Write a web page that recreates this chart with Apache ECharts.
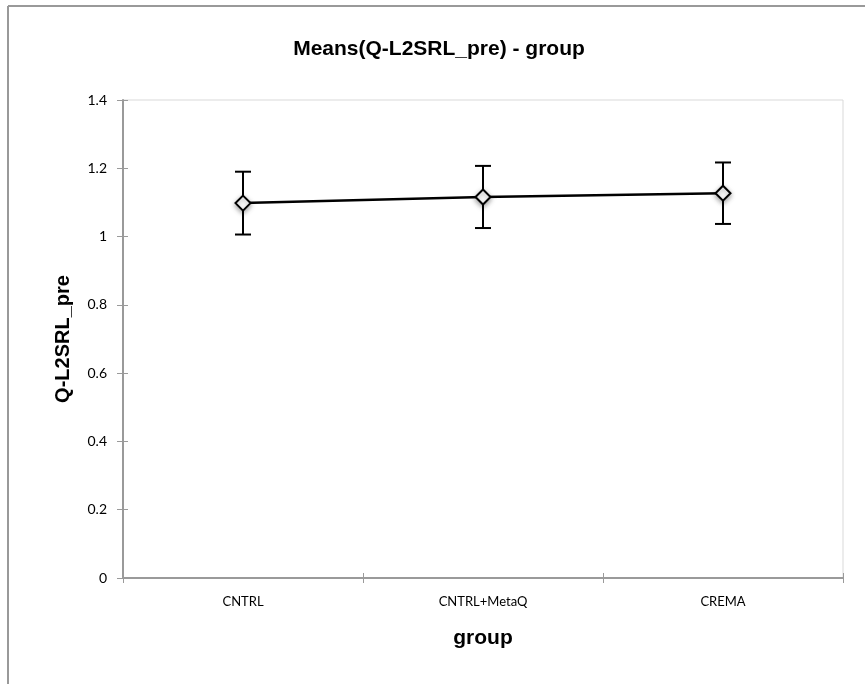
<!DOCTYPE html>
<html><head><meta charset="utf-8">
<script src="https://cdn.jsdelivr.net/npm/echarts@6/dist/echarts.min.js"></script>
<style>html,body{margin:0;padding:0;background:#fff}#c{width:865px;height:684px}</style>
</head><body><div id="c"></div>
<script>
const categories = ['CNTRL', 'CNTRL+MetaQ', 'CREMA'];
const means = [1.098, 1.116, 1.127];
const errors = [0.092, 0.091, 0.090];
const yTicks = { min: 0, max: 1.4, interval: 0.2 };

const chart = echarts.init(document.getElementById('c'), null, { renderer: 'canvas' });
const labelFont = 'Lato, "Open Sans", sans-serif';
const boldFont = '"Liberation Sans", Arial, sans-serif';
const axisGray = '#9a9a9a';

const errData = categories.map((c, i) => [i, means[i] - errors[i], means[i] + errors[i]]);

chart.setOption({
  animation: false,
  backgroundColor: '#fff',
  graphic: [
    { type: 'line', shape: { x1: 8, y1: 6, x2: 865, y2: 6 }, style: { stroke: '#999', lineWidth: 2 }, z: 100 },
    { type: 'line', shape: { x1: 8, y1: 6, x2: 8, y2: 684 }, style: { stroke: '#999', lineWidth: 2 }, z: 100 }
  ],
  title: {
    text: 'Means(Q-L2SRL_pre) - group',
    left: 434, top: 34, textAlign: 'center',
    textStyle: { fontFamily: boldFont, fontWeight: 'bold', fontSize: 21, color: '#000' }
  },
  grid: { left: 123, right: 22, top: 100, bottom: 106, show: true, borderColor: '#d9d9d9', borderWidth: 1 },
  xAxis: [{
    type: 'category', data: categories, boundaryGap: true,
    name: 'group', nameLocation: 'middle', nameGap: 50,
    nameTextStyle: { fontFamily: boldFont, fontWeight: 'bold', fontSize: 21, color: '#000' },
    axisLine: { lineStyle: { color: axisGray, width: 2 } },
    axisTick: { show: true, length: 5, alignWithLabel: false, lineStyle: { color: axisGray, width: 1 } },
    axisLabel: { fontFamily: labelFont, fontSize: 13, color: '#000', margin: 17 },
    splitLine: { show: false }
  }, {
    type: 'category', data: categories, position: 'bottom', boundaryGap: true,
    axisLine: { show: false },
    axisTick: { show: true, inside: true, length: 5, lineStyle: { color: axisGray, width: 1 } },
    axisLabel: { show: false }, splitLine: { show: false }
  }],
  yAxis: [{
    type: 'value', min: yTicks.min, max: yTicks.max, interval: yTicks.interval,
    name: 'Q-L2SRL_pre', nameLocation: 'middle', nameGap: 50,
    nameTextStyle: { fontFamily: boldFont, fontWeight: 'bold', fontSize: 20, color: '#000' },
    axisLine: { show: true, lineStyle: { color: axisGray, width: 2 } },
    axisTick: { show: true, length: 6, lineStyle: { color: axisGray, width: 1 } },
    axisLabel: { fontFamily: labelFont, fontSize: 14, color: '#000', margin: 16 },
    splitLine: { show: false }
  }, {
    type: 'value', min: yTicks.min, max: yTicks.max, interval: yTicks.interval, position: 'left',
    axisLine: { show: false },
    axisTick: { show: true, inside: true, length: 5, lineStyle: { color: axisGray, width: 1 } },
    axisLabel: { show: false }, splitLine: { show: false }
  }],
  series: [
    {
      type: 'custom',
      data: errData,
      z: 2,
      renderItem: function (params, api) {
        const x = api.value(0);
        const lo = api.coord([x, api.value(1)]);
        const hi = api.coord([x, api.value(2)]);
        const hw = 8;
        const st = { stroke: '#000', lineWidth: 2 };
        return {
          type: 'group',
          children: [
            { type: 'line', shape: { x1: lo[0], y1: lo[1], x2: hi[0], y2: hi[1] }, style: st },
            { type: 'line', shape: { x1: lo[0] - hw, y1: lo[1], x2: lo[0] + hw, y2: lo[1] }, style: st },
            { type: 'line', shape: { x1: hi[0] - hw, y1: hi[1], x2: hi[0] + hw, y2: hi[1] }, style: st }
          ]
        };
      }
    },
    {
      type: 'line',
      data: means,
      z: 3,
      symbol: 'diamond',
      symbolSize: 15,
      showAllSymbol: true,
      lineStyle: { color: '#000', width: 2.5 },
      itemStyle: { color: '#fff', borderColor: '#000', borderWidth: 2, shadowBlur: 5, shadowColor: 'rgba(0,0,0,0.35)', shadowOffsetY: 2 }
    }
  ]
});
</script></body></html>
